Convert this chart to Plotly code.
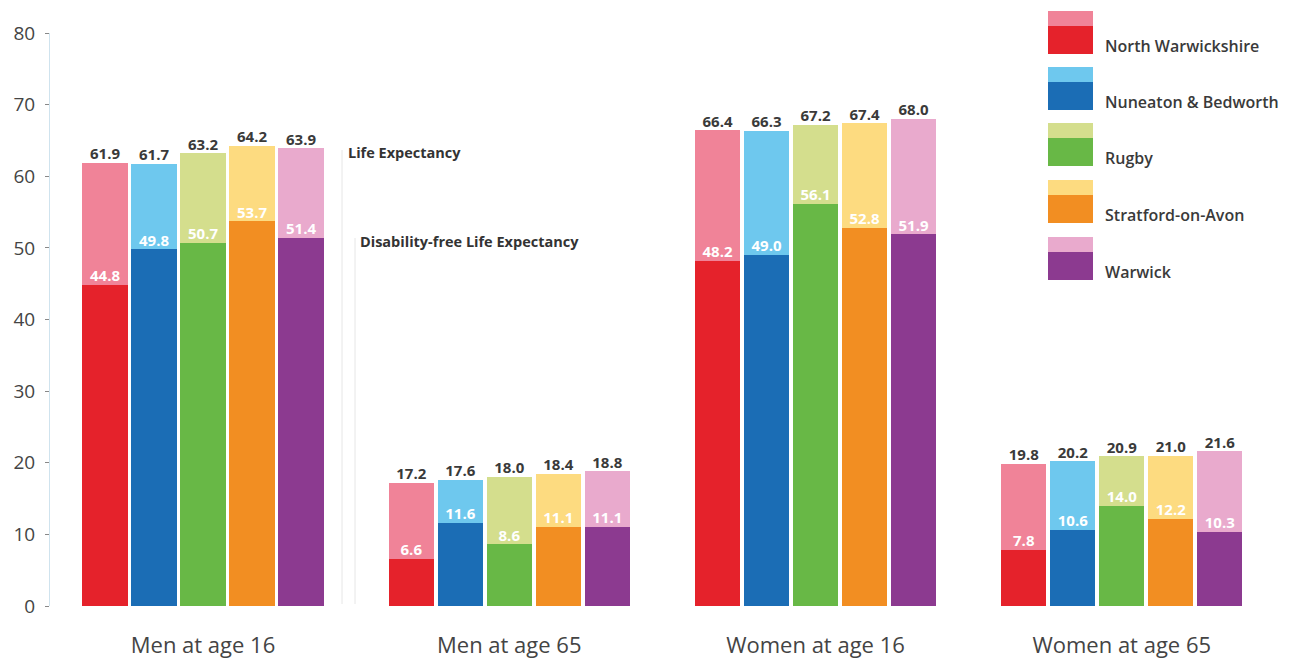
import plotly.graph_objects as go

groups = ["Men at age 16", "Men at age 65", "Women at age 16", "Women at age 65"]
districts = ["North Warwickshire", "Nuneaton & Bedworth", "Rugby", "Stratford-on-Avon", "Warwick"]

life_exp = {
    "North Warwickshire": [61.9, 17.2, 66.4, 19.8],
    "Nuneaton & Bedworth": [61.7, 17.6, 66.3, 20.2],
    "Rugby": [63.2, 18.0, 67.2, 20.9],
    "Stratford-on-Avon": [64.2, 18.4, 67.4, 21.0],
    "Warwick": [63.9, 18.8, 68.0, 21.6],
}
dfle = {
    "North Warwickshire": [44.8, 6.6, 48.2, 7.8],
    "Nuneaton & Bedworth": [49.8, 11.6, 49.0, 10.6],
    "Rugby": [50.7, 8.6, 56.1, 14.0],
    "Stratford-on-Avon": [53.7, 11.1, 52.8, 12.2],
    "Warwick": [51.4, 11.1, 51.9, 10.3],
}
y_ticks = [0, 10, 20, 30, 40, 50, 60, 70, 80]

dark_colors = ["#E5222B", "#1B6DB5", "#68B846", "#F28E22", "#8C3A90"]
light_colors = ["#F08398", "#6EC8EE", "#D4DE8D", "#FDDB80", "#E9AACD"]

GROUP_STEP = 6.25
BAR_W = 0.92
FONT = "Open Sans"

fig = go.Figure()

def xpos(i):
    return [g * GROUP_STEP + i - 2 for g in range(len(groups))]

for i, d in enumerate(districts):
    xs = xpos(i)
    fig.add_trace(go.Bar(x=xs, y=life_exp[d], width=BAR_W, marker=dict(color=light_colors[i], line=dict(width=0)),
                         showlegend=False, hoverinfo="skip"))
    fig.add_trace(go.Bar(x=xs, y=dfle[d], width=BAR_W, marker=dict(color=dark_colors[i], line=dict(width=0)),
                         showlegend=False, hoverinfo="skip"))

for i, d in enumerate(districts):
    xs = xpos(i)
    fig.add_trace(go.Scatter(x=xs, y=life_exp[d], mode="text", text=[f"{v:.1f}" for v in life_exp[d]],
                             textposition="top center",
                             textfont=dict(family=FONT, size=15, color="#3a3a3a", weight="bold"),
                             showlegend=False, hoverinfo="skip", cliponaxis=False))
    fig.add_trace(go.Scatter(x=xs, y=dfle[d], mode="text", text=[f"{v:.1f}" for v in dfle[d]],
                             textposition="top center",
                             textfont=dict(family=FONT, size=15, color="#ffffff", weight="bold"),
                             showlegend=False, hoverinfo="skip", cliponaxis=False))

# layout geometry (pixels)
W, H = 1294, 658
ML, MR, MT, MB = 50, 0, 33, 52
PW, PH = W - ML - MR, H - MT - MB

def px(x):
    return (x - ML) / PW

def py(y):
    return (H - MB - y) / PH

shapes = []
annotations = []

# faint leader lines
shapes.append(dict(type="line", xref="paper", yref="paper", x0=px(342), x1=px(342), y0=py(150), y1=py(604),
                   line=dict(color="#e6e6e6", width=1)))
shapes.append(dict(type="line", xref="paper", yref="paper", x0=px(355), x1=px(355), y0=py(238), y1=py(604),
                   line=dict(color="#e6e6e6", width=1)))

annotations.append(dict(text="Life Expectancy", xref="paper", yref="paper", x=px(346), y=py(152),
                        xanchor="left", yanchor="middle", showarrow=False,
                        font=dict(family=FONT, size=14.5, color="#333333", weight="bold")))
annotations.append(dict(text="Disability-free Life Expectancy", xref="paper", yref="paper", x=px(358), y=py(242),
                        xanchor="left", yanchor="middle", showarrow=False,
                        font=dict(family=FONT, size=14.5, color="#333333", weight="bold")))

# custom legend with two-tone swatches
tops = [11, 67, 123, 180, 237]
for i, d in enumerate(districts):
    t = tops[i]
    shapes.append(dict(type="rect", xref="paper", yref="paper", x0=px(1048), x1=px(1093), y0=py(t + 15), y1=py(t),
                       fillcolor=light_colors[i], line=dict(width=0)))
    shapes.append(dict(type="rect", xref="paper", yref="paper", x0=px(1048), x1=px(1093), y0=py(t + 43), y1=py(t + 15),
                       fillcolor=dark_colors[i], line=dict(width=0)))
    annotations.append(dict(text=d, xref="paper", yref="paper", x=px(1103), y=py(t + 35),
                            xanchor="left", yanchor="middle", showarrow=False,
                            font=dict(family=FONT, size=16, color="#3a3a3a", weight=600)))

fig.update_layout(
    width=W, height=H,
    margin=dict(l=ML, r=MR, t=MT, b=MB, pad=0),
    paper_bgcolor="white", plot_bgcolor="white",
    barmode="overlay", bargap=0,
    shapes=shapes, annotations=annotations,
    showlegend=False,
    xaxis=dict(range=[(50 - 203) / 49, (W - 203) / 49], showgrid=False, zeroline=False, showline=False,
               tickvals=[g * GROUP_STEP for g in range(len(groups))], ticktext=groups, ticks="",
               tickfont=dict(family=FONT, size=22, color="#444444"), ticklabelstandoff=24),
    yaxis=dict(range=[0, 80], tickvals=y_ticks, showgrid=False, zeroline=False,
               showline=True, linecolor="#cfe3ee", linewidth=1,
               ticks="outside", ticklen=4, tickcolor="#888888",
               tickfont=dict(family=FONT, size=19, color="#444444"), ticklabelstandoff=6),
)

fig.write_html("out.html")
